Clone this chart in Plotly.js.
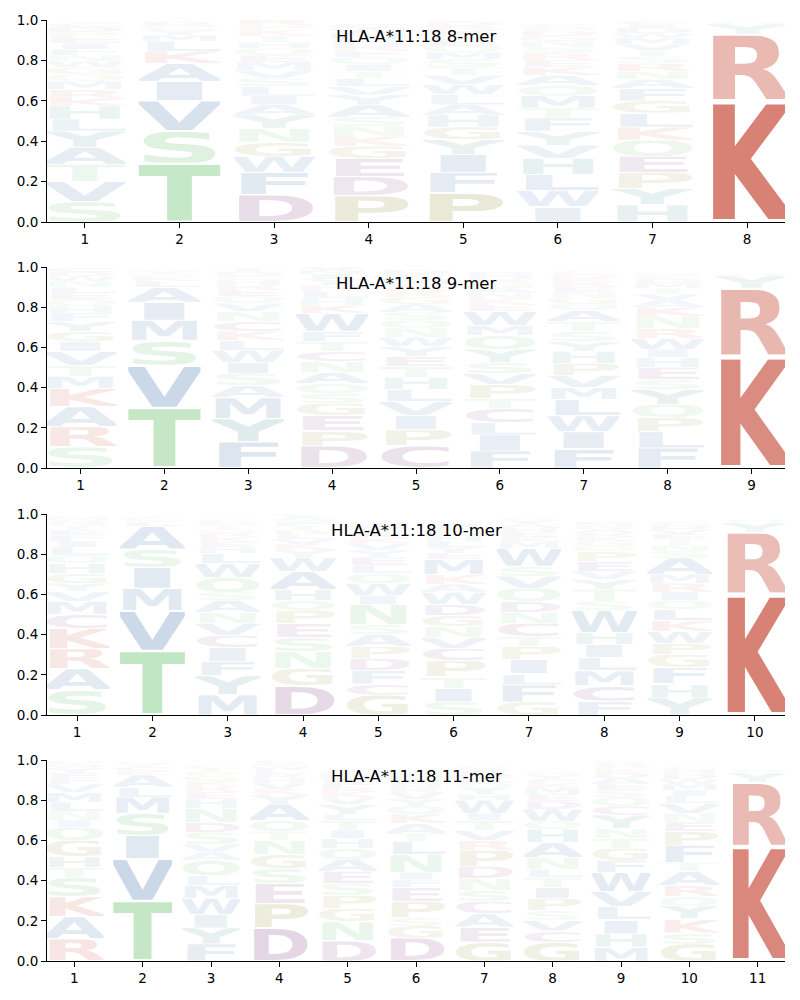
<!DOCTYPE html>
<html><head><meta charset="utf-8">
<script src="https://cdn.plot.ly/plotly-3.0.1.min.js"></script>
<style>html,body{margin:0;padding:0;background:#fff}#chart{width:800px;height:1000px}</style>
</head><body><div id="chart"></div>
<script>
// ---- DATA (letter, probability), bottom to top ----
const titles = ["HLA-A*11:18 8-mer", "HLA-A*11:18 9-mer", "HLA-A*11:18 10-mer", "HLA-A*11:18 11-mer"];
const yTicks = [0, 0.2, 0.4, 0.6, 0.8, 1.0];
const yTickText = ["0.0", "0.2", "0.4", "0.6", "0.8", "1.0"];

const logo8 = [
 [["S",.10],["V",.10],["T",.085],["A",.085],["Y",.08],["L",.06],["H",.065],["K",.04],["R",.04],["M",.04],["Q",.035],["G",.035],["W",.03],["N",.03],["F",.03],["I",.03],["E",.03],["P",.025],["D",.025],["C",.02]],
 [["T",.29],["S",.16],["V",.15],["I",.095],["A",.09],["K",.06],["L",.05],["M",.03],["Y",.025],["G",.02],["R",.02]],
 [["D",.135],["F",.11],["W",.08],["G",.07],["N",.07],["Y",.065],["A",.05],["I",.045],["L",.045],["S",.04],["V",.04],["M",.04],["E",.035],["Q",.035],["H",.03],["T",.03],["K",.03],["P",.025],["R",.025]],
 [["P",.13],["D",.095],["E",.09],["G",.06],["K",.05],["N",.05],["S",.045],["A",.06],["Y",.05],["V",.04],["L",.04],["T",.035],["I",.035],["Q",.035],["F",.03],["R",.03],["H",.03],["M",.03],["W",.025],["C",.02]],
 [["P",.145],["F",.10],["I",.09],["Y",.075],["G",.06],["H",.06],["A",.05],["L",.05],["W",.05],["V",.045],["T",.04],["S",.04],["M",.035],["Q",.03],["E",.03],["N",.025],["K",.025],["R",.02],["D",.02],["C",.01]],
 [["I",.075],["W",.08],["L",.08],["H",.08],["V",.065],["Y",.07],["F",.065],["T",.05],["M",.06],["Q",.05],["A",.05],["K",.04],["E",.035],["R",.035],["S",.03],["N",.03],["G",.025],["D",.025],["P",.02],["C",.015]],
 [["H",.085],["Y",.08],["P",.08],["E",.08],["Q",.08],["K",.065],["L",.07],["G",.06],["F",.06],["A",.045],["N",.04],["R",.04],["S",.035],["T",.03],["V",.03],["M",.03],["W",.025],["D",.025],["I",.02],["C",.015]],
 [["K",.60],["R",.33],["Y",.05],["H",.01]]
];

const logo9 = [
 [["S",.105],["R",.10],["A",.10],["K",.09],["M",.06],["T",.055],["V",.07],["I",.05],["G",.05],["Y",.05],["F",.04],["H",.035],["Q",.035],["E",.03],["L",.03],["N",.03],["W",.025],["D",.02],["C",.02]],
 [["T",.30],["V",.21],["S",.125],["M",.10],["I",.09],["A",.075],["L",.03],["K",.02],["C",.015],["Y",.015],["G",.01]],
 [["F",.13],["Y",.115],["M",.105],["A",.06],["S",.06],["I",.055],["W",.06],["L",.05],["K",.045],["C",.05],["N",.05],["V",.04],["Q",.035],["E",.03],["R",.025],["H",.025],["G",.02],["D",.02],["T",.02]],
 [["D",.11],["P",.075],["E",.075],["G",.06],["S",.05],["Q",.05],["A",.055],["N",.055],["C",.05],["T",.05],["F",.05],["W",.09],["K",.04],["H",.035],["L",.035],["R",.03],["Y",.03],["I",.025],["M",.02],["V",.02]],
 [["C",.11],["P",.08],["I",.07],["V",.07],["L",.06],["H",.06],["T",.055],["E",.05],["Y",.05],["W",.045],["N",.045],["Q",.04],["S",.04],["A",.04],["G",.035],["R",.03],["K",.03],["M",.03],["F",.025],["D",.02]],
 [["F",.085],["I",.08],["L",.06],["C",.07],["T",.05],["P",.07],["V",.055],["S",.055],["Y",.065],["Q",.07],["M",.05],["W",.07],["E",.03],["K",.03],["N",.03],["A",.025],["G",.025],["R",.02],["H",.02],["D",.015]],
 [["F",.095],["I",.085],["W",.08],["L",.08],["M",.06],["V",.06],["P",.06],["H",.06],["Y",.05],["S",.05],["T",.05],["A",.055],["Q",.03],["G",.03],["N",.03],["E",.025],["R",.025],["K",.02],["D",.02],["C",.015]],
 [["F",.10],["L",.08],["P",.07],["Q",.065],["Y",.075],["S",.05],["E",.06],["H",.05],["I",.04],["W",.055],["R",.05],["N",.06],["K",.045],["A",.035],["V",.03],["T",.03],["M",.025],["D",.02],["C",.015],["G",.015]],
 [["K",.555],["R",.34],["Y",.06],["H",.01]]
];

const logo10 = [
 [["S",.125],["A",.105],["R",.10],["K",.10],["C",.07],["M",.065],["V",.05],["Y",.04],["G",.05],["H",.05],["Q",.04],["L",.04],["I",.03],["F",.03],["E",.025],["T",.025],["N",.02],["W",.015],["D",.01]],
 [["T",.32],["V",.20],["M",.11],["I",.105],["S",.09],["A",.115],["L",.02],["K",.01],["C",.01],["Y",.01]],
 [["M",.10],["Y",.095],["F",.07],["I",.07],["C",.06],["V",.06],["N",.055],["A",.06],["S",.04],["Q",.075],["W",.07],["L",.05],["H",.03],["E",.025],["K",.025],["R",.02],["G",.02],["T",.02],["D",.015],["P",.015]],
 [["D",.145],["G",.085],["N",.085],["S",.07],["E",.07],["P",.065],["Q",.05],["H",.055],["A",.09],["W",.07],["Y",.035],["K",.03],["V",.025],["L",.025],["R",.02],["T",.02],["F",.02],["M",.015],["I",.015],["C",.01]],
 [["G",.10],["C",.055],["F",.065],["D",.06],["P",.06],["A",.06],["S",.05],["N",.10],["I",.045],["W",.06],["Q",.05],["L",.04],["E",.04],["Y",.035],["V",.035],["K",.025],["R",.025],["T",.02],["H",.02],["M",.015]],
 [["S",.065],["I",.07],["T",.055],["P",.08],["C",.06],["V",.055],["N",.055],["G",.055],["D",.055],["W",.06],["A",.04],["K",.05],["M",.075],["E",.03],["Y",.03],["L",.03],["H",.025],["Q",.025],["F",.02],["R",.02]],
 [["G",.065],["F",.085],["L",.055],["I",.07],["P",.065],["T",.05],["C",.065],["N",.055],["D",.055],["Q",.065],["V",.06],["S",.05],["W",.09],["M",.03],["K",.025],["E",.025],["H",.02],["A",.02],["Y",.02],["R",.01]],
 [["F",.07],["C",.075],["M",.075],["L",.065],["I",.065],["H",.06],["W",.11],["S",.045],["T",.06],["Y",.05],["V",.04],["E",.05],["P",.05],["Q",.025],["G",.025],["K",.02],["R",.02],["A",.02],["N",.02],["D",.015]],
 [["Y",.085],["H",.07],["F",.08],["G",.065],["P",.055],["W",.06],["K",.055],["L",.055],["Q",.045],["I",.04],["R",.045],["M",.045],["A",.08],["S",.035],["N",.03],["T",.03],["E",.025],["V",.025],["D",.02],["C",.015]],
 [["K",.60],["R",.31],["Y",.05],["H",.01]]
];

const logo11 = [
 [["R",.11],["A",.11],["K",.10],["S",.095],["T",.05],["H",.055],["G",.08],["Q",.065],["I",.035],["N",.045],["L",.045],["M",.05],["V",.04],["F",.03],["E",.025],["Y",.025],["W",.015],["C",.01],["D",.01]],
 [["T",.30],["V",.21],["I",.115],["S",.11],["M",.08],["L",.05],["A",.06],["K",.02],["C",.02],["Y",.015],["G",.01]],
 [["F",.085],["Y",.08],["I",.065],["W",.08],["M",.065],["L",.05],["Q",.075],["A",.04],["V",.04],["S",.06],["D",.05],["N",.07],["H",.045],["E",.035],["R",.03],["K",.025],["G",.025],["P",.02],["T",.02],["C",.01]],
 [["D",.165],["P",.12],["E",.10],["S",.075],["G",.07],["N",.07],["T",.045],["Q",.055],["A",.08],["Y",.045],["K",.03],["V",.03],["H",.025],["R",.02],["L",.02],["W",.02],["C",.015],["F",.01]],
 [["D",.10],["N",.095],["G",.065],["P",.065],["S",.06],["E",.06],["A",.06],["Q",.055],["H",.05],["I",.04],["T",.05],["L",.03],["Y",.05],["V",.03],["K",.03],["R",.025],["F",.025],["W",.02],["M",.02],["C",.015]],
 [["D",.115],["G",.06],["S",.04],["P",.08],["E",.07],["F",.04],["I",.035],["N",.09],["L",.065],["T",.04],["A",.05],["K",.045],["Q",.04],["Y",.035],["V",.03],["R",.025],["H",.025],["W",.02],["M",.02],["C",.015]],
 [["G",.095],["E",.075],["A",.065],["C",.06],["S",.055],["N",.06],["D",.06],["P",.08],["R",.05],["V",.05],["T",.05],["I",.035],["W",.065],["H",.03],["Y",.03],["Q",.025],["L",.025],["M",.02],["F",.02],["K",.015]],
 [["G",.095],["C",.055],["V",.055],["S",.045],["P",.06],["I",.055],["T",.05],["L",.04],["N",.06],["A",.075],["H",.065],["Q",.04],["W",.06],["D",.04],["E",.035],["M",.03],["K",.025],["F",.02],["Y",.02],["R",.015]],
 [["M",.07],["H",.065],["I",.07],["L",.065],["V",.075],["W",.095],["F",.06],["G",.06],["T",.05],["N",.05],["Y",.065],["C",.045],["Q",.045],["S",.035],["E",.03],["A",.03],["D",.025],["K",.02],["P",.02],["R",.015]],
 [["G",.085],["S",.055],["K",.07],["Y",.065],["Q",.045],["R",.055],["A",.07],["T",.045],["F",.085],["P",.07],["E",.045],["N",.045],["V",.05],["L",.035],["I",.03],["M",.03],["W",.025],["D",.025],["H",.02],["C",.015]],
 [["K",.57],["R",.32],["Y",.05],["H",.01]]
];

const logos = [logo8, logo9, logo10, logo11];

// ---- STYLE ----
const GROUP = {
  red: 'rgb(192,52,33)', blue: 'rgb(20,80,150)', teal: 'rgb(20,110,110)',
  green: 'rgb(70,180,75)', mauve: 'rgb(110,30,110)', olive: 'rgb(120,120,10)'
};
const LETTER_GROUP = {K:'red',R:'red',A:'blue',V:'blue',I:'blue',L:'blue',M:'blue',F:'blue',W:'blue',
  Y:'teal',H:'teal',S:'green',T:'green',N:'green',Q:'green',D:'mauve',E:'mauve',C:'mauve',G:'olive',P:'olive'};
const FONT = 'DejaVu Sans, Liberation Sans, sans-serif';
const glyphCache = {};
function glyph(letter) {
  if (glyphCache[letter]) return glyphCache[letter];
  const color = GROUP[LETTER_GROUP[letter]];
  const svg = '<svg xmlns="http://www.w3.org/2000/svg" width="100" height="73" viewBox="0 -73 100 73" preserveAspectRatio="none">' +
    '<text x="-5" y="0" textLength="110" lengthAdjust="spacingAndGlyphs" font-family="DejaVu Sans" font-weight="bold" font-size="100" fill="' + color + '">' + letter + '</text></svg>';
  glyphCache[letter] = 'data:image/svg+xml;charset=utf-8,' + encodeURIComponent(svg);
  return glyphCache[letter];
}

const W = 800, H = 1000;
const margin = {l: 47, r: 15, t: 20, b: 39};
const plotH = H - margin.t - margin.b;
const boxes = [[20, 222], [267, 468], [514, 715], [760, 961]];
const letterWidth = 0.86, vpad = 0.05;

const data = [], images = [], annotations = [];
const layout = {
  width: W, height: H, margin: margin, showlegend: false,
  paper_bgcolor: '#fff', plot_bgcolor: '#fff',
  font: {family: FONT, size: 14, color: '#000'},
  images: images, annotations: annotations
};

logos.forEach((logo, i) => {
  const sfx = i === 0 ? '' : String(i + 1);
  const L = logo.length;
  const positions = logo.map((_, j) => j + 1);
  const [top, bot] = boxes[i];
  const d0 = (H - margin.b - bot) / plotH, d1 = (H - margin.b - top) / plotH;
  const axisStyle = {
    showline: true, linecolor: '#000', linewidth: 1, ticks: 'outside', ticklen: 5, tickwidth: 1, tickcolor: '#000',
    showgrid: false, zeroline: false, fixedrange: true, tickfont: {family: FONT, size: 13.5, color: '#000'}
  };
  layout['xaxis' + sfx] = Object.assign({
    domain: [0, 1], anchor: 'y' + sfx, range: [0.6, L + 0.4],
    tickvals: positions, ticktext: positions.map(String)
  }, axisStyle);
  layout['yaxis' + sfx] = Object.assign({
    domain: [d0, d1], anchor: 'x' + sfx, range: [0, 1],
    tickvals: yTicks, ticktext: yTickText
  }, axisStyle);
  data.push({type: 'scatter', x: positions, y: positions.map(() => 0), xaxis: 'x' + sfx, yaxis: 'y' + sfx,
    mode: 'markers', marker: {opacity: 0}, hoverinfo: 'skip'});
  logo.forEach((col, j) => {
    let base = 0;
    col.forEach(([letter, p]) => {
      images.push({
        source: glyph(letter), xref: 'x' + sfx, yref: 'y' + sfx,
        x: (j + 1) - letterWidth / 2, y: base + p * vpad / 2,
        sizex: letterWidth, sizey: p * (1 - vpad),
        xanchor: 'left', yanchor: 'bottom', sizing: 'stretch',
        opacity: Math.min(1, p + 0.01), layer: 'above'
      });
      base += p;
    });
  });
  annotations.push({
    text: titles[i], xref: 'x' + sfx + ' domain', yref: 'y' + sfx + ' domain',
    x: 0.5, y: 0.92, xanchor: 'center', yanchor: 'middle', showarrow: false,
    font: {family: FONT, size: 16.5, color: '#000'}
  });
});

Plotly.newPlot('chart', data, layout, {staticPlot: true, displayModeBar: false});
</script>
</body></html>
